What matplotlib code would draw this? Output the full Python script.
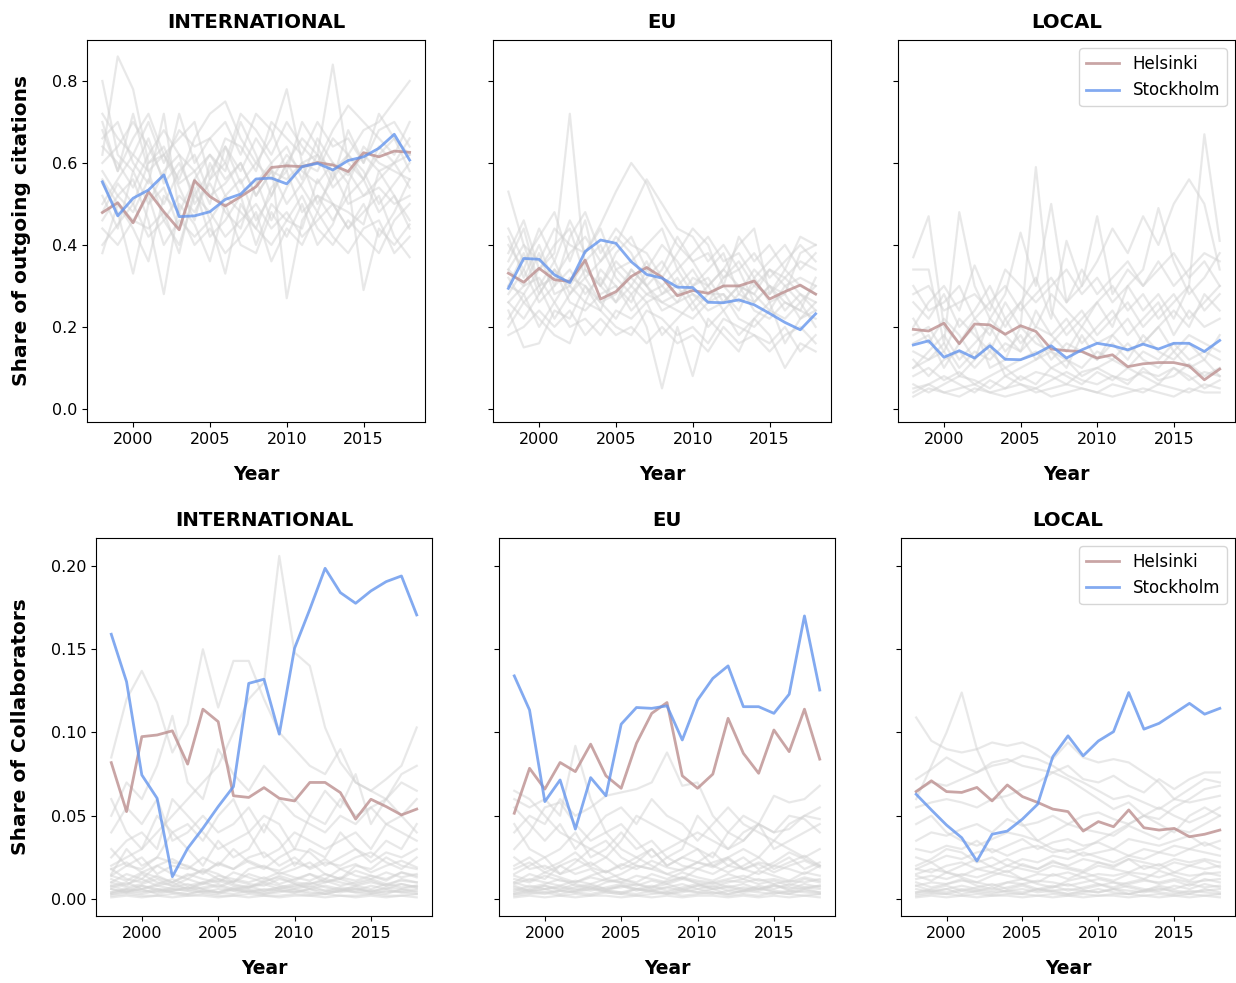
import numpy as np
import matplotlib
matplotlib.use("Agg")
import matplotlib.pyplot as plt

years = list(range(1998, 2019))
scopes = ["INTERNATIONAL", "EU", "LOCAL"]
row_labels = ["Share of outgoing citations", "Share of Collaborators"]

# ---- Share of outgoing citations -------------------------------------------
cit_helsinki = {
    "INTERNATIONAL": [0.479, 0.503, 0.454, 0.530, 0.481, 0.437, 0.557, 0.518, 0.495, 0.518, 0.542,
                      0.589, 0.593, 0.591, 0.601, 0.595, 0.579, 0.625, 0.615, 0.629, 0.626],
    "EU": [0.331, 0.309, 0.343, 0.315, 0.311, 0.363, 0.268, 0.286, 0.323, 0.345, 0.321,
           0.276, 0.289, 0.282, 0.300, 0.300, 0.312, 0.268, 0.286, 0.302, 0.280],
    "LOCAL": [0.194, 0.190, 0.209, 0.159, 0.207, 0.205, 0.182, 0.203, 0.189, 0.146, 0.142,
              0.140, 0.124, 0.132, 0.103, 0.110, 0.113, 0.113, 0.105, 0.071, 0.097],
}
cit_stockholm = {
    "INTERNATIONAL": [0.554, 0.471, 0.514, 0.534, 0.571, 0.469, 0.471, 0.481, 0.511, 0.524, 0.561,
                      0.563, 0.549, 0.591, 0.599, 0.583, 0.606, 0.615, 0.636, 0.670, 0.607],
    "EU": [0.294, 0.367, 0.365, 0.327, 0.308, 0.384, 0.412, 0.404, 0.359, 0.328, 0.319,
           0.297, 0.296, 0.260, 0.259, 0.266, 0.254, 0.233, 0.211, 0.193, 0.232],
    "LOCAL": [0.156, 0.166, 0.126, 0.142, 0.124, 0.154, 0.121, 0.120, 0.134, 0.154, 0.124,
              0.144, 0.160, 0.154, 0.144, 0.158, 0.146, 0.160, 0.160, 0.140, 0.167],
}

# Other cities (background)
cit_others_international = [
    [0.80, 0.62, 0.58, 0.66, 0.55, 0.60, 0.52, 0.58, 0.64, 0.55, 0.60, 0.56, 0.62, 0.58, 0.55, 0.60, 0.57, 0.62, 0.58, 0.60, 0.62],
    [0.62, 0.86, 0.78, 0.60, 0.64, 0.55, 0.58, 0.62, 0.56, 0.60, 0.52, 0.58, 0.56, 0.60, 0.62, 0.58, 0.62, 0.68, 0.70, 0.75, 0.80],
    [0.70, 0.58, 0.66, 0.72, 0.62, 0.56, 0.66, 0.72, 0.75, 0.66, 0.60, 0.66, 0.78, 0.60, 0.58, 0.66, 0.62, 0.56, 0.64, 0.60, 0.66],
    [0.55, 0.48, 0.33, 0.50, 0.58, 0.62, 0.50, 0.55, 0.48, 0.44, 0.55, 0.60, 0.27, 0.46, 0.52, 0.50, 0.48, 0.45, 0.58, 0.52, 0.46],
    [0.46, 0.52, 0.56, 0.46, 0.28, 0.50, 0.45, 0.36, 0.50, 0.40, 0.38, 0.48, 0.42, 0.50, 0.40, 0.45, 0.55, 0.29, 0.44, 0.40, 0.45],
    [0.66, 0.70, 0.60, 0.55, 0.72, 0.48, 0.56, 0.62, 0.58, 0.70, 0.62, 0.52, 0.60, 0.66, 0.62, 0.84, 0.60, 0.56, 0.62, 0.66, 0.58],
    [0.40, 0.45, 0.50, 0.42, 0.46, 0.40, 0.52, 0.48, 0.42, 0.46, 0.50, 0.44, 0.48, 0.42, 0.46, 0.50, 0.44, 0.48, 0.52, 0.42, 0.37],
    [0.58, 0.52, 0.48, 0.56, 0.50, 0.58, 0.62, 0.52, 0.55, 0.60, 0.52, 0.58, 0.50, 0.55, 0.62, 0.54, 0.58, 0.52, 0.56, 0.60, 0.54],
    [0.50, 0.56, 0.62, 0.58, 0.46, 0.52, 0.48, 0.56, 0.60, 0.52, 0.56, 0.46, 0.54, 0.60, 0.50, 0.56, 0.62, 0.58, 0.50, 0.55, 0.60],
    [0.64, 0.60, 0.54, 0.62, 0.68, 0.62, 0.58, 0.50, 0.64, 0.58, 0.66, 0.60, 0.64, 0.56, 0.66, 0.60, 0.55, 0.64, 0.60, 0.58, 0.56],
    [0.44, 0.40, 0.46, 0.52, 0.40, 0.46, 0.42, 0.46, 0.33, 0.50, 0.44, 0.40, 0.46, 0.52, 0.44, 0.40, 0.46, 0.42, 0.38, 0.46, 0.50],
    [0.72, 0.66, 0.62, 0.70, 0.60, 0.68, 0.64, 0.66, 0.60, 0.72, 0.68, 0.62, 0.70, 0.64, 0.60, 0.68, 0.74, 0.70, 0.66, 0.62, 0.70],
    [0.52, 0.44, 0.58, 0.50, 0.54, 0.44, 0.56, 0.46, 0.52, 0.48, 0.44, 0.54, 0.58, 0.48, 0.52, 0.46, 0.52, 0.56, 0.48, 0.52, 0.44],
    [0.38, 0.50, 0.44, 0.36, 0.52, 0.48, 0.40, 0.44, 0.38, 0.42, 0.48, 0.36, 0.44, 0.40, 0.48, 0.42, 0.38, 0.44, 0.46, 0.38, 0.42],
    [0.60, 0.64, 0.70, 0.64, 0.56, 0.72, 0.60, 0.66, 0.70, 0.62, 0.72, 0.68, 0.58, 0.70, 0.64, 0.56, 0.68, 0.60, 0.72, 0.66, 0.62],
    [0.48, 0.55, 0.50, 0.60, 0.62, 0.54, 0.46, 0.60, 0.52, 0.56, 0.46, 0.52, 0.60, 0.54, 0.48, 0.58, 0.50, 0.52, 0.54, 0.50, 0.52],
    [0.56, 0.50, 0.46, 0.44, 0.48, 0.38, 0.54, 0.42, 0.46, 0.52, 0.40, 0.50, 0.46, 0.44, 0.56, 0.50, 0.44, 0.50, 0.42, 0.48, 0.56],
    [0.68, 0.58, 0.72, 0.58, 0.62, 0.66, 0.70, 0.56, 0.66, 0.64, 0.58, 0.70, 0.66, 0.62, 0.70, 0.64, 0.66, 0.60, 0.68, 0.70, 0.64],
]
cit_others_eu = [
    [0.30, 0.28, 0.34, 0.38, 0.72, 0.34, 0.30, 0.36, 0.32, 0.28, 0.30, 0.26, 0.28, 0.24, 0.26, 0.30, 0.24, 0.22, 0.26, 0.24, 0.22],
    [0.53, 0.40, 0.36, 0.44, 0.40, 0.38, 0.45, 0.53, 0.60, 0.55, 0.46, 0.40, 0.36, 0.38, 0.32, 0.36, 0.30, 0.34, 0.30, 0.32, 0.30],
    [0.36, 0.44, 0.30, 0.32, 0.38, 0.42, 0.36, 0.40, 0.48, 0.56, 0.50, 0.44, 0.42, 0.36, 0.40, 0.34, 0.38, 0.32, 0.36, 0.40, 0.36],
    [0.24, 0.15, 0.16, 0.24, 0.22, 0.30, 0.26, 0.22, 0.28, 0.20, 0.05, 0.20, 0.08, 0.22, 0.18, 0.14, 0.22, 0.18, 0.10, 0.16, 0.14],
    [0.20, 0.26, 0.22, 0.18, 0.16, 0.26, 0.24, 0.20, 0.18, 0.24, 0.22, 0.18, 0.20, 0.16, 0.22, 0.20, 0.18, 0.16, 0.20, 0.14, 0.18],
    [0.44, 0.36, 0.42, 0.48, 0.36, 0.46, 0.30, 0.38, 0.42, 0.34, 0.40, 0.36, 0.30, 0.34, 0.38, 0.28, 0.34, 0.30, 0.28, 0.38, 0.40],
    [0.28, 0.34, 0.26, 0.30, 0.34, 0.28, 0.32, 0.26, 0.30, 0.36, 0.28, 0.32, 0.26, 0.30, 0.24, 0.28, 0.26, 0.30, 0.24, 0.28, 0.26],
    [0.34, 0.30, 0.38, 0.28, 0.30, 0.36, 0.40, 0.32, 0.28, 0.32, 0.36, 0.30, 0.34, 0.28, 0.30, 0.26, 0.30, 0.28, 0.34, 0.30, 0.28],
    [0.26, 0.22, 0.28, 0.34, 0.26, 0.24, 0.28, 0.30, 0.24, 0.28, 0.26, 0.24, 0.22, 0.26, 0.28, 0.22, 0.20, 0.24, 0.22, 0.26, 0.20],
    [0.38, 0.46, 0.34, 0.40, 0.44, 0.32, 0.36, 0.42, 0.38, 0.30, 0.34, 0.42, 0.36, 0.30, 0.34, 0.40, 0.44, 0.28, 0.32, 0.36, 0.34],
    [0.22, 0.28, 0.20, 0.26, 0.20, 0.22, 0.18, 0.24, 0.22, 0.26, 0.18, 0.22, 0.26, 0.20, 0.24, 0.18, 0.22, 0.26, 0.16, 0.22, 0.24],
    [0.32, 0.26, 0.30, 0.22, 0.28, 0.32, 0.26, 0.28, 0.34, 0.30, 0.26, 0.28, 0.30, 0.32, 0.26, 0.30, 0.28, 0.24, 0.30, 0.26, 0.30],
    [0.40, 0.34, 0.44, 0.36, 0.46, 0.38, 0.44, 0.34, 0.36, 0.40, 0.44, 0.34, 0.38, 0.42, 0.36, 0.38, 0.32, 0.36, 0.40, 0.34, 0.38],
    [0.18, 0.20, 0.24, 0.20, 0.24, 0.18, 0.22, 0.18, 0.20, 0.16, 0.20, 0.16, 0.18, 0.14, 0.20, 0.16, 0.18, 0.14, 0.18, 0.20, 0.16],
    [0.30, 0.38, 0.28, 0.34, 0.30, 0.26, 0.34, 0.30, 0.26, 0.34, 0.30, 0.34, 0.28, 0.26, 0.32, 0.34, 0.26, 0.30, 0.26, 0.24, 0.32],
    [0.42, 0.32, 0.40, 0.30, 0.42, 0.48, 0.38, 0.44, 0.40, 0.38, 0.32, 0.38, 0.44, 0.40, 0.30, 0.42, 0.36, 0.40, 0.34, 0.42, 0.40],
    [0.26, 0.30, 0.32, 0.26, 0.32, 0.30, 0.24, 0.34, 0.30, 0.26, 0.28, 0.30, 0.24, 0.28, 0.28, 0.24, 0.32, 0.26, 0.28, 0.22, 0.26],
    [0.34, 0.40, 0.30, 0.36, 0.28, 0.34, 0.30, 0.26, 0.34, 0.30, 0.24, 0.26, 0.32, 0.30, 0.34, 0.30, 0.28, 0.34, 0.32, 0.28, 0.24],
]
cit_others_local = [
    [0.37, 0.47, 0.20, 0.16, 0.22, 0.18, 0.26, 0.20, 0.59, 0.24, 0.18, 0.22, 0.26, 0.20, 0.30, 0.24, 0.28, 0.22, 0.30, 0.67, 0.41],
    [0.34, 0.34, 0.16, 0.48, 0.30, 0.22, 0.28, 0.43, 0.30, 0.50, 0.26, 0.30, 0.36, 0.44, 0.38, 0.47, 0.40, 0.50, 0.56, 0.50, 0.34],
    [0.20, 0.26, 0.30, 0.24, 0.35, 0.26, 0.20, 0.26, 0.32, 0.22, 0.41, 0.30, 0.47, 0.28, 0.34, 0.30, 0.36, 0.30, 0.34, 0.38, 0.36],
    [0.10, 0.14, 0.18, 0.12, 0.16, 0.20, 0.14, 0.18, 0.12, 0.16, 0.20, 0.24, 0.18, 0.22, 0.26, 0.20, 0.24, 0.28, 0.22, 0.26, 0.30],
    [0.05, 0.06, 0.04, 0.05, 0.06, 0.04, 0.05, 0.06, 0.04, 0.05, 0.06, 0.05, 0.04, 0.06, 0.05, 0.04, 0.06, 0.05, 0.04, 0.06, 0.05],
    [0.08, 0.10, 0.07, 0.09, 0.06, 0.08, 0.10, 0.07, 0.09, 0.08, 0.06, 0.09, 0.10, 0.08, 0.07, 0.09, 0.08, 0.10, 0.07, 0.09, 0.08],
    [0.26, 0.22, 0.28, 0.20, 0.24, 0.30, 0.22, 0.26, 0.20, 0.28, 0.24, 0.20, 0.26, 0.30, 0.24, 0.28, 0.22, 0.26, 0.30, 0.24, 0.28],
    [0.14, 0.12, 0.16, 0.10, 0.14, 0.12, 0.16, 0.14, 0.18, 0.12, 0.16, 0.14, 0.12, 0.18, 0.14, 0.16, 0.20, 0.14, 0.18, 0.16, 0.14],
    [0.04, 0.06, 0.08, 0.06, 0.04, 0.07, 0.05, 0.08, 0.06, 0.10, 0.08, 0.06, 0.09, 0.07, 0.10, 0.08, 0.06, 0.10, 0.08, 0.05, 0.07],
    [0.18, 0.20, 0.14, 0.22, 0.18, 0.14, 0.22, 0.16, 0.20, 0.18, 0.22, 0.16, 0.20, 0.24, 0.18, 0.22, 0.26, 0.18, 0.24, 0.20, 0.22],
    [0.12, 0.08, 0.12, 0.14, 0.10, 0.14, 0.10, 0.12, 0.14, 0.10, 0.12, 0.10, 0.14, 0.12, 0.10, 0.14, 0.12, 0.16, 0.12, 0.14, 0.12],
    [0.30, 0.24, 0.26, 0.30, 0.22, 0.26, 0.30, 0.24, 0.28, 0.32, 0.26, 0.34, 0.28, 0.32, 0.36, 0.30, 0.34, 0.38, 0.32, 0.36, 0.30],
    [0.06, 0.04, 0.06, 0.08, 0.07, 0.05, 0.08, 0.06, 0.05, 0.07, 0.09, 0.07, 0.06, 0.08, 0.06, 0.10, 0.07, 0.08, 0.11, 0.08, 0.10],
    [0.22, 0.16, 0.22, 0.18, 0.12, 0.22, 0.18, 0.14, 0.24, 0.18, 0.14, 0.20, 0.16, 0.18, 0.22, 0.16, 0.20, 0.24, 0.20, 0.28, 0.24],
    [0.16, 0.18, 0.10, 0.16, 0.20, 0.10, 0.12, 0.20, 0.16, 0.14, 0.10, 0.18, 0.12, 0.16, 0.12, 0.18, 0.14, 0.12, 0.16, 0.12, 0.18],
    [0.10, 0.12, 0.14, 0.08, 0.12, 0.16, 0.08, 0.10, 0.12, 0.14, 0.12, 0.08, 0.10, 0.12, 0.16, 0.12, 0.10, 0.14, 0.10, 0.12, 0.08],
    [0.28, 0.30, 0.24, 0.26, 0.28, 0.24, 0.34, 0.30, 0.26, 0.30, 0.34, 0.28, 0.32, 0.26, 0.30, 0.34, 0.49, 0.36, 0.28, 0.32, 0.38],
    [0.03, 0.05, 0.04, 0.03, 0.05, 0.04, 0.03, 0.04, 0.05, 0.03, 0.04, 0.05, 0.04, 0.03, 0.04, 0.05, 0.04, 0.03, 0.05, 0.04, 0.04],
]

# ---- Share of collaborators ------------------------------------------------
col_helsinki = {
    "INTERNATIONAL": [0.0819, 0.0525, 0.0975, 0.0985, 0.101, 0.081, 0.114, 0.1065, 0.062, 0.061, 0.0669,
                      0.0605, 0.0589, 0.070, 0.070, 0.0639, 0.048, 0.0599, 0.0555, 0.0505, 0.054],
    "EU": [0.0515, 0.0785, 0.066, 0.082, 0.0765, 0.093, 0.074, 0.0665, 0.0935, 0.1115, 0.118,
           0.074, 0.0665, 0.075, 0.1085, 0.0875, 0.0755, 0.1015, 0.0885, 0.114, 0.084],
    "LOCAL": [0.0645, 0.071, 0.0645, 0.064, 0.067, 0.0589, 0.0685, 0.0615, 0.058, 0.054, 0.0525,
              0.0408, 0.0465, 0.0434, 0.0535, 0.0428, 0.0414, 0.0424, 0.0374, 0.0389, 0.0414],
}
col_stockholm = {
    "INTERNATIONAL": [0.159, 0.1305, 0.0745, 0.0605, 0.0134, 0.0304, 0.0425, 0.0555, 0.0675, 0.1295, 0.132,
                      0.099, 0.1506, 0.174, 0.1986, 0.184, 0.1776, 0.185, 0.1906, 0.194, 0.1706],
    "EU": [0.134, 0.1135, 0.0585, 0.0715, 0.042, 0.0729, 0.062, 0.105, 0.115, 0.1145, 0.116,
           0.0955, 0.1195, 0.1325, 0.140, 0.1155, 0.1155, 0.1115, 0.123, 0.170, 0.1255],
    "LOCAL": [0.0629, 0.0535, 0.0444, 0.0368, 0.0228, 0.0389, 0.0408, 0.048, 0.0569, 0.0855, 0.098,
              0.086, 0.0949, 0.1005, 0.124, 0.102, 0.1055, 0.1115, 0.1175, 0.111, 0.1145],
}

# Small-share cities shared by all three collaborator panels (dense band near zero)
col_others_low = [
    [0.004, 0.006, 0.008, 0.005, 0.007, 0.009, 0.006, 0.008, 0.005, 0.007, 0.009, 0.006, 0.008, 0.010, 0.007, 0.005, 0.008, 0.006, 0.009, 0.007, 0.008],
    [0.010, 0.007, 0.009, 0.012, 0.008, 0.006, 0.010, 0.012, 0.009, 0.007, 0.011, 0.013, 0.009, 0.007, 0.010, 0.012, 0.009, 0.011, 0.008, 0.012, 0.010],
    [0.001, 0.002, 0.001, 0.002, 0.001, 0.002, 0.002, 0.001, 0.002, 0.001, 0.002, 0.001, 0.002, 0.002, 0.001, 0.002, 0.001, 0.002, 0.001, 0.002, 0.001],
    [0.014, 0.011, 0.016, 0.013, 0.010, 0.014, 0.017, 0.012, 0.010, 0.015, 0.012, 0.016, 0.013, 0.011, 0.015, 0.012, 0.017, 0.014, 0.011, 0.016, 0.014],
    [0.006, 0.004, 0.003, 0.005, 0.004, 0.003, 0.005, 0.004, 0.006, 0.004, 0.003, 0.005, 0.004, 0.006, 0.003, 0.005, 0.004, 0.003, 0.005, 0.004, 0.003],
    [0.018, 0.022, 0.016, 0.020, 0.024, 0.019, 0.016, 0.021, 0.018, 0.023, 0.019, 0.017, 0.022, 0.019, 0.024, 0.018, 0.021, 0.016, 0.020, 0.023, 0.019],
    [0.008, 0.005, 0.006, 0.008, 0.006, 0.005, 0.007, 0.009, 0.006, 0.008, 0.005, 0.007, 0.009, 0.006, 0.008, 0.006, 0.005, 0.008, 0.006, 0.009, 0.007],
    [0.003, 0.004, 0.006, 0.003, 0.005, 0.007, 0.004, 0.003, 0.006, 0.005, 0.003, 0.004, 0.006, 0.004, 0.003, 0.005, 0.007, 0.004, 0.003, 0.006, 0.004],
]

col_others_international = [
    [0.020, 0.025, 0.030, 0.040, 0.050, 0.060, 0.070, 0.080, 0.100, 0.120, 0.130, 0.206, 0.148, 0.140, 0.103, 0.082, 0.070, 0.065, 0.060, 0.075, 0.080],
    [0.085, 0.120, 0.137, 0.118, 0.088, 0.105, 0.150, 0.115, 0.143, 0.143, 0.120, 0.100, 0.090, 0.080, 0.075, 0.090, 0.070, 0.065, 0.072, 0.080, 0.103],
    [0.050, 0.070, 0.060, 0.080, 0.110, 0.070, 0.060, 0.090, 0.075, 0.065, 0.080, 0.070, 0.060, 0.050, 0.065, 0.055, 0.075, 0.045, 0.060, 0.070, 0.065],
    [0.060, 0.040, 0.030, 0.050, 0.040, 0.045, 0.035, 0.050, 0.060, 0.040, 0.050, 0.045, 0.030, 0.050, 0.045, 0.060, 0.050, 0.055, 0.045, 0.050, 0.060],
    [0.015, 0.030, 0.020, 0.025, 0.040, 0.030, 0.020, 0.035, 0.025, 0.030, 0.045, 0.035, 0.020, 0.030, 0.025, 0.040, 0.030, 0.025, 0.035, 0.030, 0.045],
    [0.010, 0.015, 0.012, 0.020, 0.015, 0.012, 0.018, 0.015, 0.010, 0.018, 0.020, 0.015, 0.018, 0.022, 0.015, 0.012, 0.020, 0.018, 0.025, 0.020, 0.018],
    [0.008, 0.010, 0.006, 0.009, 0.012, 0.008, 0.010, 0.007, 0.011, 0.009, 0.008, 0.012, 0.010, 0.009, 0.011, 0.008, 0.010, 0.012, 0.009, 0.011, 0.010],
    [0.004, 0.006, 0.005, 0.004, 0.006, 0.005, 0.004, 0.006, 0.005, 0.004, 0.006, 0.005, 0.004, 0.006, 0.005, 0.004, 0.006, 0.005, 0.004, 0.005, 0.006],
    [0.002, 0.003, 0.002, 0.002, 0.003, 0.002, 0.003, 0.002, 0.002, 0.003, 0.002, 0.002, 0.003, 0.002, 0.003, 0.002, 0.002, 0.003, 0.002, 0.002, 0.003],
    [0.030, 0.020, 0.025, 0.015, 0.020, 0.018, 0.025, 0.020, 0.030, 0.022, 0.018, 0.025, 0.030, 0.028, 0.020, 0.025, 0.030, 0.022, 0.028, 0.025, 0.030],
    [0.012, 0.008, 0.015, 0.010, 0.008, 0.012, 0.009, 0.014, 0.012, 0.010, 0.013, 0.009, 0.012, 0.015, 0.010, 0.013, 0.011, 0.014, 0.012, 0.016, 0.013],
    [0.040, 0.055, 0.045, 0.060, 0.035, 0.040, 0.050, 0.040, 0.045, 0.055, 0.040, 0.060, 0.050, 0.045, 0.040, 0.050, 0.045, 0.055, 0.060, 0.050, 0.040],
    [0.006, 0.004, 0.008, 0.006, 0.005, 0.007, 0.006, 0.004, 0.007, 0.006, 0.005, 0.007, 0.006, 0.008, 0.005, 0.007, 0.006, 0.004, 0.007, 0.006, 0.008],
    [0.018, 0.012, 0.010, 0.014, 0.010, 0.015, 0.012, 0.010, 0.016, 0.013, 0.010, 0.014, 0.011, 0.015, 0.012, 0.018, 0.014, 0.012, 0.016, 0.013, 0.015],
    [0.003, 0.005, 0.004, 0.006, 0.004, 0.003, 0.005, 0.004, 0.003, 0.005, 0.004, 0.006, 0.005, 0.003, 0.004, 0.006, 0.004, 0.005, 0.006, 0.004, 0.005],
    [0.025, 0.035, 0.040, 0.030, 0.060, 0.050, 0.040, 0.030, 0.035, 0.040, 0.025, 0.030, 0.040, 0.035, 0.030, 0.035, 0.040, 0.030, 0.045, 0.040, 0.035],
    [0.007, 0.009, 0.012, 0.008, 0.010, 0.006, 0.009, 0.011, 0.008, 0.007, 0.010, 0.008, 0.007, 0.009, 0.012, 0.010, 0.008, 0.010, 0.008, 0.009, 0.007],
    [0.014, 0.020, 0.018, 0.025, 0.022, 0.020, 0.015, 0.022, 0.018, 0.025, 0.028, 0.020, 0.025, 0.018, 0.022, 0.020, 0.025, 0.028, 0.022, 0.018, 0.025],
]
col_others_eu = [
    [0.060, 0.055, 0.060, 0.050, 0.092, 0.060, 0.040, 0.030, 0.025, 0.030, 0.020, 0.025, 0.030, 0.020, 0.025, 0.030, 0.025, 0.035, 0.030, 0.025, 0.030],
    [0.040, 0.050, 0.045, 0.060, 0.050, 0.055, 0.062, 0.064, 0.066, 0.070, 0.088, 0.068, 0.070, 0.050, 0.040, 0.035, 0.045, 0.040, 0.042, 0.050, 0.055],
    [0.065, 0.060, 0.050, 0.040, 0.035, 0.030, 0.025, 0.035, 0.050, 0.045, 0.040, 0.035, 0.030, 0.025, 0.040, 0.050, 0.045, 0.062, 0.058, 0.060, 0.068],
    [0.030, 0.040, 0.055, 0.058, 0.045, 0.035, 0.040, 0.045, 0.035, 0.025, 0.030, 0.035, 0.040, 0.035, 0.030, 0.040, 0.045, 0.040, 0.050, 0.048, 0.040],
    [0.010, 0.015, 0.012, 0.020, 0.015, 0.018, 0.012, 0.015, 0.020, 0.018, 0.015, 0.012, 0.018, 0.015, 0.020, 0.018, 0.015, 0.020, 0.018, 0.015, 0.020],
    [0.005, 0.008, 0.006, 0.007, 0.005, 0.008, 0.006, 0.007, 0.009, 0.006, 0.007, 0.005, 0.008, 0.006, 0.007, 0.009, 0.006, 0.008, 0.007, 0.006, 0.008],
    [0.002, 0.003, 0.004, 0.002, 0.003, 0.002, 0.004, 0.003, 0.002, 0.003, 0.004, 0.002, 0.003, 0.004, 0.002, 0.003, 0.002, 0.004, 0.003, 0.002, 0.003],
    [0.020, 0.025, 0.018, 0.022, 0.028, 0.020, 0.025, 0.018, 0.022, 0.030, 0.020, 0.025, 0.022, 0.028, 0.020, 0.025, 0.018, 0.022, 0.028, 0.024, 0.020],
    [0.012, 0.010, 0.014, 0.011, 0.010, 0.013, 0.011, 0.010, 0.014, 0.012, 0.010, 0.013, 0.011, 0.010, 0.012, 0.014, 0.011, 0.012, 0.010, 0.013, 0.011],
    [0.045, 0.030, 0.025, 0.030, 0.040, 0.025, 0.030, 0.040, 0.030, 0.035, 0.025, 0.030, 0.050, 0.040, 0.030, 0.035, 0.045, 0.030, 0.035, 0.040, 0.045],
    [0.007, 0.005, 0.008, 0.006, 0.009, 0.007, 0.005, 0.008, 0.006, 0.005, 0.007, 0.009, 0.006, 0.008, 0.005, 0.007, 0.006, 0.009, 0.005, 0.007, 0.006],
    [0.015, 0.020, 0.025, 0.015, 0.018, 0.022, 0.016, 0.020, 0.025, 0.020, 0.015, 0.018, 0.022, 0.020, 0.016, 0.020, 0.025, 0.018, 0.022, 0.026, 0.020],
    [0.003, 0.005, 0.004, 0.005, 0.004, 0.006, 0.005, 0.004, 0.003, 0.005, 0.004, 0.006, 0.004, 0.003, 0.005, 0.004, 0.006, 0.005, 0.004, 0.005, 0.004],
    [0.025, 0.018, 0.020, 0.015, 0.022, 0.030, 0.035, 0.025, 0.020, 0.018, 0.025, 0.020, 0.018, 0.022, 0.025, 0.018, 0.022, 0.020, 0.025, 0.018, 0.022],
    [0.055, 0.045, 0.035, 0.045, 0.030, 0.040, 0.050, 0.055, 0.045, 0.060, 0.050, 0.045, 0.035, 0.045, 0.055, 0.045, 0.040, 0.035, 0.045, 0.050, 0.048],
    [0.009, 0.012, 0.010, 0.008, 0.011, 0.009, 0.012, 0.010, 0.008, 0.011, 0.009, 0.012, 0.010, 0.009, 0.011, 0.010, 0.012, 0.009, 0.011, 0.010, 0.012],
]
col_others_local = [
    [0.060, 0.080, 0.100, 0.124, 0.090, 0.070, 0.055, 0.045, 0.035, 0.030, 0.028, 0.030, 0.035, 0.040, 0.045, 0.050, 0.045, 0.040, 0.050, 0.055, 0.050],
    [0.109, 0.095, 0.090, 0.088, 0.090, 0.094, 0.092, 0.094, 0.090, 0.084, 0.094, 0.085, 0.082, 0.084, 0.082, 0.076, 0.070, 0.060, 0.058, 0.060, 0.062],
    [0.072, 0.078, 0.085, 0.080, 0.076, 0.082, 0.084, 0.080, 0.078, 0.076, 0.080, 0.072, 0.070, 0.074, 0.068, 0.064, 0.072, 0.066, 0.072, 0.076, 0.076],
    [0.055, 0.058, 0.060, 0.058, 0.055, 0.060, 0.062, 0.066, 0.070, 0.076, 0.072, 0.066, 0.060, 0.054, 0.058, 0.050, 0.048, 0.055, 0.060, 0.066, 0.068],
    [0.035, 0.040, 0.038, 0.042, 0.045, 0.040, 0.048, 0.044, 0.046, 0.050, 0.045, 0.042, 0.040, 0.038, 0.044, 0.040, 0.036, 0.042, 0.040, 0.045, 0.050],
    [0.025, 0.022, 0.026, 0.024, 0.028, 0.030, 0.026, 0.030, 0.032, 0.028, 0.030, 0.026, 0.028, 0.030, 0.026, 0.030, 0.028, 0.032, 0.030, 0.034, 0.030],
    [0.015, 0.018, 0.016, 0.014, 0.018, 0.016, 0.020, 0.018, 0.016, 0.020, 0.018, 0.016, 0.020, 0.018, 0.016, 0.020, 0.018, 0.022, 0.020, 0.018, 0.020],
    [0.008, 0.010, 0.009, 0.011, 0.010, 0.008, 0.010, 0.009, 0.011, 0.010, 0.008, 0.010, 0.012, 0.010, 0.009, 0.011, 0.010, 0.012, 0.010, 0.011, 0.012],
    [0.004, 0.005, 0.004, 0.006, 0.005, 0.004, 0.005, 0.006, 0.004, 0.005, 0.006, 0.005, 0.004, 0.006, 0.005, 0.004, 0.006, 0.005, 0.004, 0.005, 0.006],
    [0.045, 0.050, 0.040, 0.035, 0.032, 0.036, 0.040, 0.038, 0.035, 0.040, 0.045, 0.050, 0.052, 0.048, 0.045, 0.050, 0.055, 0.050, 0.046, 0.050, 0.055],
    [0.020, 0.024, 0.030, 0.028, 0.022, 0.025, 0.020, 0.024, 0.022, 0.026, 0.024, 0.028, 0.025, 0.022, 0.026, 0.024, 0.028, 0.026, 0.030, 0.028, 0.026],
    [0.012, 0.014, 0.012, 0.015, 0.013, 0.016, 0.014, 0.012, 0.015, 0.014, 0.016, 0.013, 0.015, 0.014, 0.016, 0.015, 0.013, 0.016, 0.014, 0.015, 0.016],
    [0.030, 0.028, 0.032, 0.030, 0.035, 0.028, 0.032, 0.036, 0.030, 0.034, 0.036, 0.032, 0.034, 0.030, 0.036, 0.034, 0.032, 0.035, 0.038, 0.032, 0.035],
    [0.002, 0.003, 0.003, 0.002, 0.003, 0.002, 0.003, 0.003, 0.002, 0.003, 0.002, 0.003, 0.002, 0.003, 0.003, 0.002, 0.003, 0.002, 0.003, 0.002, 0.003],
    [0.065, 0.070, 0.068, 0.072, 0.076, 0.080, 0.082, 0.086, 0.084, 0.080, 0.074, 0.070, 0.065, 0.060, 0.062, 0.058, 0.054, 0.060, 0.066, 0.072, 0.070],
    [0.018, 0.016, 0.020, 0.022, 0.018, 0.020, 0.024, 0.020, 0.018, 0.022, 0.020, 0.024, 0.022, 0.020, 0.024, 0.022, 0.020, 0.024, 0.022, 0.024, 0.022],
]

rows = [
    dict(helsinki=cit_helsinki, stockholm=cit_stockholm,
         others={"INTERNATIONAL": cit_others_international, "EU": cit_others_eu,
                 "LOCAL": cit_others_local},
         ylim=(-0.032, 0.90)),
    dict(helsinki=col_helsinki, stockholm=col_stockholm,
         others={"INTERNATIONAL": col_others_international + col_others_low,
                 "EU": col_others_eu + col_others_low,
                 "LOCAL": col_others_local + col_others_low},
         ylim=(-0.0102, 0.2168)),
]

W, H = 1236, 983
fig = plt.figure(figsize=(W / 100, H / 100), dpi=100)

# axes boxes in pixels: (left, right, top, bottom)
boxes = [
    [(87, 425, 40, 422), (493, 831, 40, 422), (898, 1235, 40, 422)],
    [(96, 432, 538, 916), (499, 835, 538, 916), (901, 1235, 538, 916)],
]

HEL_COLOR = "rosybrown"
STO_COLOR = "cornflowerblue"

for r, row in enumerate(rows):
    first = None
    for c, scope in enumerate(scopes):
        l, rr, t, b = boxes[r][c]
        rect = [l / W, 1 - b / H, (rr - l) / W, (b - t) / H]
        ax = fig.add_axes(rect, sharey=first) if first is not None else fig.add_axes(rect)
        if first is None:
            first = ax
        for series in row["others"][scope]:
            ax.plot(years, series, color="lightgrey", alpha=0.5, lw=1.6, zorder=1)
        ax.plot(years, row["helsinki"][scope], color=HEL_COLOR, alpha=0.8, lw=2,
                label="Helsinki", zorder=3)
        ax.plot(years, row["stockholm"][scope], color=STO_COLOR, alpha=0.8, lw=2,
                label="Stockholm", zorder=3)
        ax.set_ylim(*row["ylim"])
        ax.set_xticks([2000, 2005, 2010, 2015])
        ax.tick_params(labelsize=11.5)
        ax.set_title(scope, fontsize=14.2, fontweight="bold", pad=9)
        ax.set_xlabel("Year", fontsize=13.5, fontweight="bold", labelpad=13)
        if c == 0:
            ax.set_ylabel(row_labels[r], fontsize=14.5, fontweight="bold", labelpad=15)
        else:
            ax.tick_params(labelleft=False)
        if scope == "LOCAL":
            ax.legend(loc="upper right", fontsize=12)

fig.savefig("out.png", dpi=100)
